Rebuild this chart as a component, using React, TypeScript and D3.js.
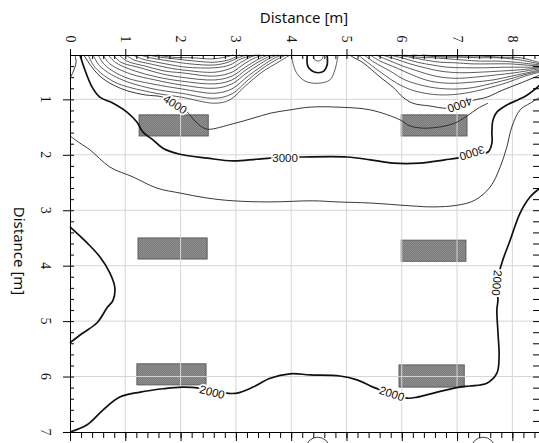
import React, { useEffect, useRef } from 'react';
import * as d3 from 'd3';

type Pt = [number, number];

// axis ticks (metres)
const xTicks = [0, 1, 2, 3, 4, 5, 6, 7, 8];
const yTicks = [1, 2, 3, 4, 5, 6, 7];

// grey boxes (metres)
const boxes = [
  { x0: 1.25, x1: 2.5, y0: 1.28, y1: 1.66 },
  { x0: 5.99, x1: 7.18, y0: 1.28, y1: 1.66 },
  { x0: 1.23, x1: 2.48, y0: 3.5, y1: 3.88 },
  { x0: 5.99, x1: 7.16, y0: 3.54, y1: 3.92 },
  { x0: 1.21, x1: 2.46, y0: 5.77, y1: 6.15 },
  { x0: 5.95, x1: 7.13, y0: 5.79, y1: 6.19 },
];

// labelled / thick contours
const line3000: Pt[] = [
  [0.18, 0.2], [0.27, 0.47], [0.4, 0.78], [0.54, 0.96], [0.78, 1.07], [1.03, 1.23], [1.21, 1.41],
  [1.32, 1.59], [1.5, 1.73], [1.68, 1.88], [1.99, 1.99], [2.48, 2.06], [2.95, 2.11], [3.38, 2.08],
  [3.89, 2.04], [4.16, 2.04], [5.01, 2.04], [5.43, 2.09], [5.84, 2.15], [6.33, 2.15], [6.78, 2.09],
  [7.0, 2.06], [7.27, 1.99], [7.56, 1.95], [7.63, 1.79], [7.63, 1.59], [7.65, 1.37], [7.72, 1.23],
  [7.9, 1.1], [8.1, 1.01], [8.27, 0.92], [8.5, 0.74],
];
const line2000Left: Pt[] = [
  [0, 3.3], [0.31, 3.59], [0.54, 3.84], [0.72, 4.13], [0.81, 4.39], [0.78, 4.62], [0.67, 4.76],
  [0.49, 5.03], [0.24, 5.21], [0, 5.39],
];
const line2000: Pt[] = [
  [0, 7.0], [0.31, 6.87], [0.6, 6.6], [0.9, 6.37], [1.27, 6.28], [1.68, 6.22], [2.03, 6.19],
  [2.35, 6.21], [2.57, 6.26], [2.84, 6.3], [3.02, 6.3], [3.31, 6.19], [3.62, 6.03], [3.98, 5.95],
  [4.34, 5.97], [4.88, 5.99], [5.19, 6.06], [5.48, 6.19], [5.82, 6.31], [6.1, 6.39], [6.28, 6.37],
  [6.64, 6.28], [7.05, 6.19], [7.23, 6.17], [7.54, 6.12], [7.72, 5.94], [7.76, 5.65], [7.74, 5.21],
  [7.72, 4.8], [7.74, 4.62], [7.72, 4.31], [7.81, 3.95], [7.96, 3.54], [8.14, 3.05], [8.32, 2.76],
  [8.5, 2.6],
];

// thin contours
const line2500: Pt[] = [
  [0, 1.66], [0.18, 1.79], [0.36, 1.91], [0.72, 2.22], [1.14, 2.4], [1.57, 2.6], [1.99, 2.69],
  [2.48, 2.78], [2.95, 2.83], [3.62, 2.85], [4.39, 2.83], [4.83, 2.85], [5.43, 2.87], [6.15, 2.92],
  [6.57, 2.94], [7.0, 2.91], [7.32, 2.82], [7.6, 2.58], [7.78, 2.22], [7.9, 1.86], [7.99, 1.5],
  [8.14, 1.19], [8.32, 1.07], [8.5, 0.96],
];
const line4000Left: Pt[] = [
  [0.25, 0.2], [0.36, 0.37], [0.54, 0.58], [0.78, 0.74], [1.05, 0.85], [1.36, 0.92], [1.68, 0.96],
  [1.9, 1.09], [2.12, 1.23], [2.26, 1.39], [2.39, 1.5], [2.5, 1.54], [2.95, 1.44], [3.31, 1.34],
  [3.62, 1.25], [3.98, 1.19], [4.34, 1.14], [4.83, 1.14], [5.43, 1.19], [5.97, 1.37], [6.15, 1.48],
  [6.46, 1.52], [6.93, 1.44], [7.18, 1.3], [7.38, 1.16], [7.56, 1.07],
];
const line4000Right: Pt[] = [
  [5.06, 0.2], [5.12, 0.24], [5.3, 0.34], [5.61, 0.6], [5.84, 0.78], [6.02, 0.96], [6.2, 1.07],
  [6.51, 1.12], [6.82, 1.16], [7.05, 1.1], [7.32, 1.01], [7.54, 0.96], [7.83, 0.83], [8.19, 0.69],
  [8.5, 0.56],
];
const cornerLine: Pt[] = [[0.09, 0.2], [0.11, 0.33], [0.07, 0.47], [0, 0.62]];

const denseLeft: Pt[][] = [
  [[0.33, 0.2], [0.45, 0.42], [0.81, 0.69], [1.45, 0.87], [2.01, 0.96], [2.62, 1.07], [2.89, 1.01], [3.17, 0.76], [3.47, 0.51], [3.8, 0.31], [3.98, 0.2]],
  [[0.42, 0.2], [0.54, 0.4], [0.9, 0.63], [1.45, 0.8], [2.01, 0.89], [2.62, 0.98], [2.93, 0.9], [3.22, 0.65], [3.47, 0.45], [3.76, 0.27], [3.91, 0.2]],
  [[0.51, 0.2], [0.63, 0.38], [0.99, 0.6], [1.48, 0.72], [2.01, 0.81], [2.62, 0.89], [2.93, 0.81], [3.22, 0.58], [3.47, 0.4], [3.71, 0.25], [3.84, 0.2]],
  [[0.6, 0.2], [0.72, 0.36], [1.09, 0.54], [1.54, 0.65], [2.01, 0.74], [2.62, 0.8], [2.93, 0.72], [3.2, 0.52], [3.44, 0.36], [3.65, 0.24], [3.76, 0.2]],
  [[0.69, 0.2], [0.83, 0.34], [1.18, 0.49], [1.59, 0.6], [2.01, 0.67], [2.62, 0.72], [2.93, 0.65], [3.18, 0.47], [3.4, 0.33], [3.62, 0.22], [3.69, 0.2]],
  [[0.78, 0.2], [0.92, 0.33], [1.27, 0.43], [1.66, 0.54], [2.01, 0.6], [2.62, 0.65], [2.93, 0.58], [3.17, 0.42], [3.38, 0.29], [3.58, 0.2]],
  [[0.89, 0.2], [1.03, 0.31], [1.36, 0.4], [1.72, 0.49], [2.01, 0.52], [2.62, 0.58], [2.93, 0.51], [3.15, 0.36], [3.35, 0.25], [3.51, 0.2]],
  [[1.01, 0.2], [1.16, 0.29], [1.45, 0.36], [1.77, 0.43], [2.04, 0.47], [2.62, 0.51], [2.93, 0.43], [3.13, 0.31], [3.31, 0.22], [3.44, 0.2]],
  [[1.14, 0.2], [1.3, 0.27], [1.57, 0.33], [1.84, 0.38], [2.1, 0.42], [2.62, 0.43], [2.89, 0.38], [3.09, 0.27], [3.26, 0.22], [3.37, 0.2]],
  [[1.27, 0.2], [1.45, 0.25], [1.68, 0.29], [1.94, 0.33], [2.17, 0.36], [2.62, 0.38], [2.86, 0.33], [3.04, 0.25], [3.2, 0.2]],
  [[1.41, 0.2], [1.63, 0.24], [1.9, 0.27], [2.26, 0.31], [2.62, 0.33], [2.86, 0.29], [3.07, 0.2]],
  [[1.57, 0.2], [1.84, 0.24], [2.21, 0.25], [2.57, 0.27], [2.8, 0.24], [2.95, 0.2]],
];

const denseRight: Pt[][] = [
  [[5.21, 0.2], [5.39, 0.34], [5.66, 0.54], [5.93, 0.72], [6.24, 0.85], [6.69, 0.92], [7.14, 0.89], [7.51, 0.81], [7.87, 0.71], [8.23, 0.58], [8.5, 0.51]],
  [[5.32, 0.2], [5.5, 0.33], [5.79, 0.49], [6.06, 0.65], [6.42, 0.76], [6.78, 0.81], [7.2, 0.8], [7.6, 0.72], [7.96, 0.63], [8.28, 0.54], [8.5, 0.49]],
  [[5.43, 0.2], [5.61, 0.31], [5.9, 0.43], [6.19, 0.56], [6.51, 0.67], [6.87, 0.71], [7.27, 0.69], [7.65, 0.65], [7.99, 0.58], [8.32, 0.51], [8.5, 0.47]],
  [[5.53, 0.2], [5.75, 0.29], [6.02, 0.4], [6.29, 0.49], [6.6, 0.58], [6.96, 0.62], [7.32, 0.6], [7.7, 0.56], [8.05, 0.52], [8.36, 0.47], [8.5, 0.45]],
  [[5.64, 0.2], [5.88, 0.27], [6.15, 0.36], [6.42, 0.43], [6.69, 0.49], [7.05, 0.52], [7.42, 0.51], [7.78, 0.49], [8.1, 0.47], [8.5, 0.43]],
  [[5.77, 0.2], [6.0, 0.25], [6.28, 0.33], [6.55, 0.38], [6.82, 0.42], [7.14, 0.43], [7.51, 0.43], [7.87, 0.42], [8.18, 0.42], [8.5, 0.42]],
  [[5.9, 0.2], [6.15, 0.24], [6.42, 0.29], [6.69, 0.33], [6.96, 0.34], [7.27, 0.36], [7.6, 0.36], [7.96, 0.36], [8.23, 0.38], [8.5, 0.4]],
  [[6.04, 0.2], [6.29, 0.24], [6.57, 0.25], [6.84, 0.27], [7.11, 0.29], [7.42, 0.31], [7.74, 0.31], [8.05, 0.33], [8.5, 0.38]],
  [[6.19, 0.2], [6.47, 0.22], [6.78, 0.24], [7.09, 0.24], [7.42, 0.25], [7.78, 0.25], [8.14, 0.29], [8.5, 0.36]],
  [[6.37, 0.2], [6.69, 0.22], [7.05, 0.22], [7.42, 0.22], [7.78, 0.24], [8.14, 0.25], [8.5, 0.34]],
];

// small closed rings near x = 4.5
const midOuter: Pt[] = [[4.0, 0.2], [4.09, 0.51], [4.25, 0.67], [4.49, 0.71], [4.7, 0.65], [4.79, 0.47], [4.85, 0.2]];
const midThick: Pt[] = [[4.29, 0.2], [4.3, 0.4], [4.38, 0.49], [4.49, 0.52], [4.59, 0.49], [4.65, 0.38], [4.65, 0.2]];
const midInner: Pt[] = [[4.4, 0.2], [4.41, 0.27], [4.49, 0.31], [4.56, 0.27], [4.58, 0.2]];

const contourLabels = [
  { text: '4000', x: 1.9, y: 1.09, angle: 33 },
  { text: '4000', x: 7.05, y: 1.1, angle: 160 },
  { text: '3000', x: 3.89, y: 2.06, angle: 0 },
  { text: '3000', x: 7.27, y: 1.97, angle: 163 },
  { text: '2000', x: 2.57, y: 6.28, angle: 14 },
  { text: '2000', x: 5.82, y: 6.31, angle: 18 },
  { text: '2000', x: 7.72, y: 4.31, angle: 95 },
];

const markers: Pt[] = [[4.48, 7.31], [7.47, 7.31]];

export default function App() {
  const svgRef = useRef<SVGSVGElement>(null);

  useEffect(() => {
    const svg = d3.select(svgRef.current).html('');
    const x = d3.scaleLinear().domain([0, 8.5]).range([70, 540]);
    const y = d3.scaleLinear().domain([0.2, 7.0]).range([55, 432]);

    svg.append('rect').attr('width', 539).attr('height', 443).attr('fill', '#fff');

    const defs = svg.append('defs');
    const pat = defs.append('pattern').attr('id', 'chk')
      .attr('width', 2).attr('height', 2).attr('patternUnits', 'userSpaceOnUse');
    pat.append('rect').attr('width', 2).attr('height', 2).attr('fill', '#7b7b7b');
    pat.append('rect').attr('width', 1).attr('height', 1).attr('fill', '#8e8e8e');
    pat.append('rect').attr('x', 1).attr('y', 1).attr('width', 1).attr('height', 1).attr('fill', '#8e8e8e');

    // boxes
    svg.append('g').selectAll('rect').data(boxes).join('rect')
      .attr('x', d => x(d.x0)).attr('y', d => y(d.y0))
      .attr('width', d => x(d.x1) - x(d.x0)).attr('height', d => y(d.y1) - y(d.y0))
      .attr('fill', 'url(#chk)').attr('stroke', '#5c5c5c').attr('stroke-width', 1);

    // grid
    const grid = svg.append('g').attr('stroke', '#d6d6d6').attr('stroke-width', 1);
    grid.selectAll('.gx').data(xTicks.filter(v => v > 0)).join('line')
      .attr('x1', d => x(d)).attr('x2', d => x(d)).attr('y1', y(0.2)).attr('y2', y(7.0));
    grid.selectAll('.gy').data(yTicks.filter(v => v < 7)).join('line')
      .attr('y1', d => y(d)).attr('y2', d => y(d)).attr('x1', x(0)).attr('x2', x(8.5));

    const line = d3.line<Pt>().x(d => x(d[0])).y(d => y(d[1])).curve(d3.curveCatmullRom.alpha(0.5));

    const cg = svg.append('g').attr('fill', 'none');
    cg.selectAll('.dense').data([...denseLeft, ...denseRight, midOuter, midInner]).join('path')
      .attr('d', d => line(d)).attr('stroke', '#333').attr('stroke-width', 0.8);
    cg.selectAll('.thin').data([line2500, line4000Left, line4000Right, cornerLine]).join('path')
      .attr('d', d => line(d)).attr('stroke', '#222').attr('stroke-width', 0.9);
    cg.selectAll('.thick').data([line3000, line2000Left, line2000, midThick]).join('path')
      .attr('d', d => line(d)).attr('stroke', '#111').attr('stroke-width', 1.7);

    svg.append('g').selectAll('text').data(contourLabels).join('text')
      .attr('transform', d => `translate(${x(d.x)},${y(d.y)}) rotate(${d.angle})`)
      .attr('text-anchor', 'middle').attr('dominant-baseline', 'central')
      .attr('font-family', 'Liberation Sans, Arial, sans-serif').attr('font-size', 11.5)
      .attr('fill', '#111').attr('stroke', '#fff').attr('stroke-width', 3.5)
      .attr('paint-order', 'stroke').text(d => d.text);

    // markers below the bottom axis
    svg.append('g').selectAll('circle').data(markers).join('circle')
      .attr('cx', d => x(d[0])).attr('cy', d => y(d[1])).attr('r', 12)
      .attr('fill', 'none').attr('stroke', '#444').attr('stroke-width', 1);

    // axes
    const minorX = d3.range(0, 8.5001, 0.2);
    const minorY = d3.range(0.2, 7.0001, 0.2);
    const style = (g: any) => {
      g.selectAll('path').attr('stroke', '#000');
      g.selectAll('line').attr('stroke', '#000');
      g.selectAll('text').remove();
    };
    svg.append('g').attr('transform', `translate(0,${y(0.2)})`)
      .call(d3.axisTop(x).tickValues(minorX).tickSize(-4).tickSizeOuter(0)).call(style);
    svg.append('g').attr('transform', `translate(0,${y(0.2)})`)
      .call(d3.axisTop(x).tickValues(xTicks).tickSize(6).tickSizeOuter(0)).call(style);
    svg.append('g').attr('transform', `translate(0,${y(7.0)})`)
      .call(d3.axisBottom(x).tickValues(minorX).tickSize(6).tickSizeOuter(0)).call(style);
    svg.append('g').attr('transform', `translate(0,${y(7.0)})`)
      .call(d3.axisBottom(x).tickValues(xTicks).tickSize(9).tickSizeOuter(0)).call(style);
    svg.append('g').attr('transform', `translate(${x(0)},0)`)
      .call(d3.axisLeft(y).tickValues(minorY).tickSize(-4).tickSizeOuter(0)).call(style);
    svg.append('g').attr('transform', `translate(${x(0)},0)`)
      .call(d3.axisLeft(y).tickValues(yTicks).tickSize(7).tickSizeOuter(0)).call(style);
    svg.append('g').attr('transform', `translate(${x(8.5)},0)`)
      .call(d3.axisRight(y).tickValues(minorY).tickSize(-7).tickSizeOuter(0)).call(style);

    // tick labels, turned a quarter clockwise
    const tickFont = 'Liberation Serif, Times New Roman, serif';
    svg.append('g').selectAll('text').data(xTicks).join('text')
      .attr('transform', d => `translate(${x(d)},39) rotate(90)`)
      .attr('text-anchor', 'middle').attr('dominant-baseline', 'central')
      .attr('font-family', tickFont).attr('font-size', 14).attr('fill', '#111')
      .text(d => d);
    svg.append('g').selectAll('text').data(yTicks).join('text')
      .attr('transform', d => `translate(45,${y(d)}) rotate(90)`)
      .attr('text-anchor', 'middle').attr('dominant-baseline', 'central')
      .attr('font-family', tickFont).attr('font-size', 14).attr('fill', '#111')
      .text(d => d);

    svg.append('text').attr('x', 304).attr('y', 23).attr('text-anchor', 'middle')
      .attr('font-family', 'Noto Sans, sans-serif').attr('font-size', 15).attr('fill', '#111')
      .text('Distance [m]');
    svg.append('text').attr('transform', 'translate(20,251) rotate(90)')
      .attr('text-anchor', 'middle').attr('dominant-baseline', 'central')
      .attr('font-family', 'Noto Sans, sans-serif').attr('font-size', 15).attr('fill', '#111')
      .text('Distance [m]');
  }, []);

  return (
    <svg ref={svgRef} width={539} height={443}
      style={{ position: 'absolute', left: 0, top: 0, display: 'block' }} />
  );
}
